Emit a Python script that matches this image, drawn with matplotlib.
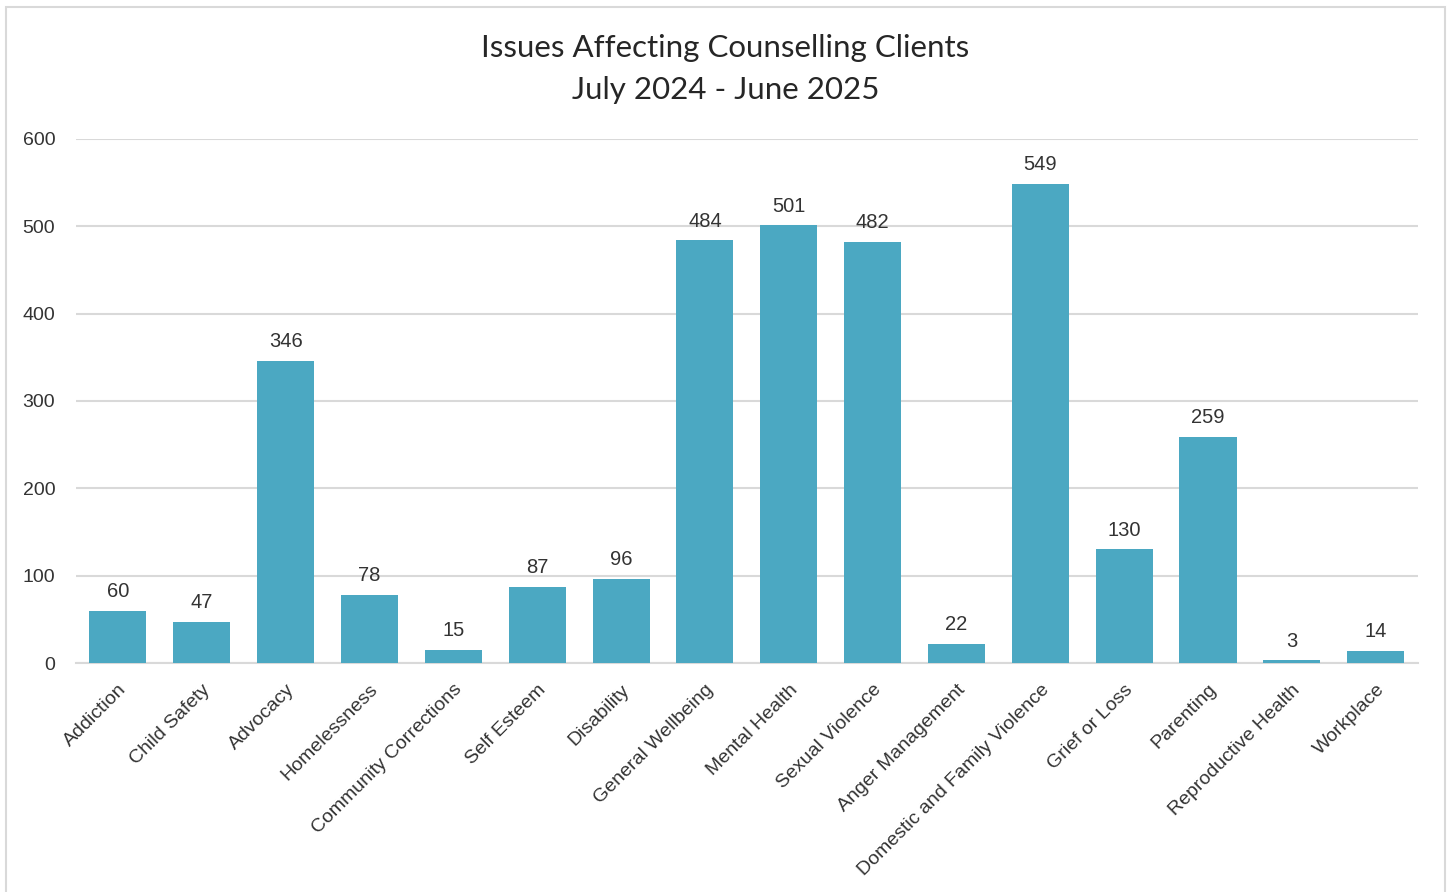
import matplotlib
matplotlib.use('Agg')

import matplotlib.pyplot as plt
from matplotlib.patches import Rectangle

categories = ['Addiction', 'Child Safety', 'Advocacy', 'Homelessness',
              'Community Corrections', 'Self Esteem', 'Disability',
              'General Wellbeing', 'Mental Health', 'Sexual Violence',
              'Anger Management', 'Domestic and Family Violence',
              'Grief or Loss', 'Parenting', 'Reproductive Health', 'Workplace']
counts = [60, 47, 346, 78, 15, 87, 96, 484, 501, 482, 22, 549, 130, 259, 3, 14]
y_ticks = [0, 100, 200, 300, 400, 500, 600]

bar_color = '#4BA8C2'
grid_color = '#d9d9d9'
text_color = '#333333'

plt.rcParams['font.family'] = ['Liberation Sans', 'DejaVu Sans']

fig = plt.figure(figsize=(14.51, 8.92), dpi=100)
ax = fig.add_axes([0.0524, 0.2567, 0.9246, 0.5875])

x = range(len(categories))
ax.bar(x, counts, width=0.68, color=bar_color, zorder=3)

for xi, v in zip(x, counts):
    ax.annotate(str(v), (xi, v), xytext=(0, 7), textcoords='offset points',
                ha='center', va='bottom', fontsize=14.5, color=text_color)

ax.set_xlim(-0.5, len(categories) - 0.5)
ax.set_ylim(0, 600)
ax.set_yticks(y_ticks)
ax.yaxis.grid(True, color=grid_color, linewidth=1.5, zorder=0)
ax.tick_params(axis='y', length=0, labelsize=14, labelcolor=text_color, pad=15)
ax.tick_params(axis='x', length=0, labelsize=14, labelcolor=text_color, pad=13)
ax.set_xticks(list(x))
ax.set_xticklabels(categories, rotation=45, ha='right', rotation_mode='anchor')

for side in ['top', 'right', 'left']:
    ax.spines[side].set_visible(False)
ax.spines['bottom'].set_color(grid_color)
ax.spines['bottom'].set_linewidth(1.5)

fig.text(0.5, 0.946, 'Issues Affecting Counselling Clients', ha='center', va='center',
         fontsize=22.5, color='#262626', family=['Lato', 'DejaVu Sans'])
fig.text(0.5, 0.899, 'July 2024 - June 2025', ha='center', va='center',
         fontsize=22.5, color='#262626', family=['Lato', 'DejaVu Sans'])

# chart border
fig.patches.append(Rectangle((6 / 1451, -0.01), (1445 - 6) / 1451, 1 - 7 / 892 + 0.01,
                             transform=fig.transFigure, fill=False,
                             edgecolor=grid_color, linewidth=1.5))

fig.savefig('out.png', dpi=100)
